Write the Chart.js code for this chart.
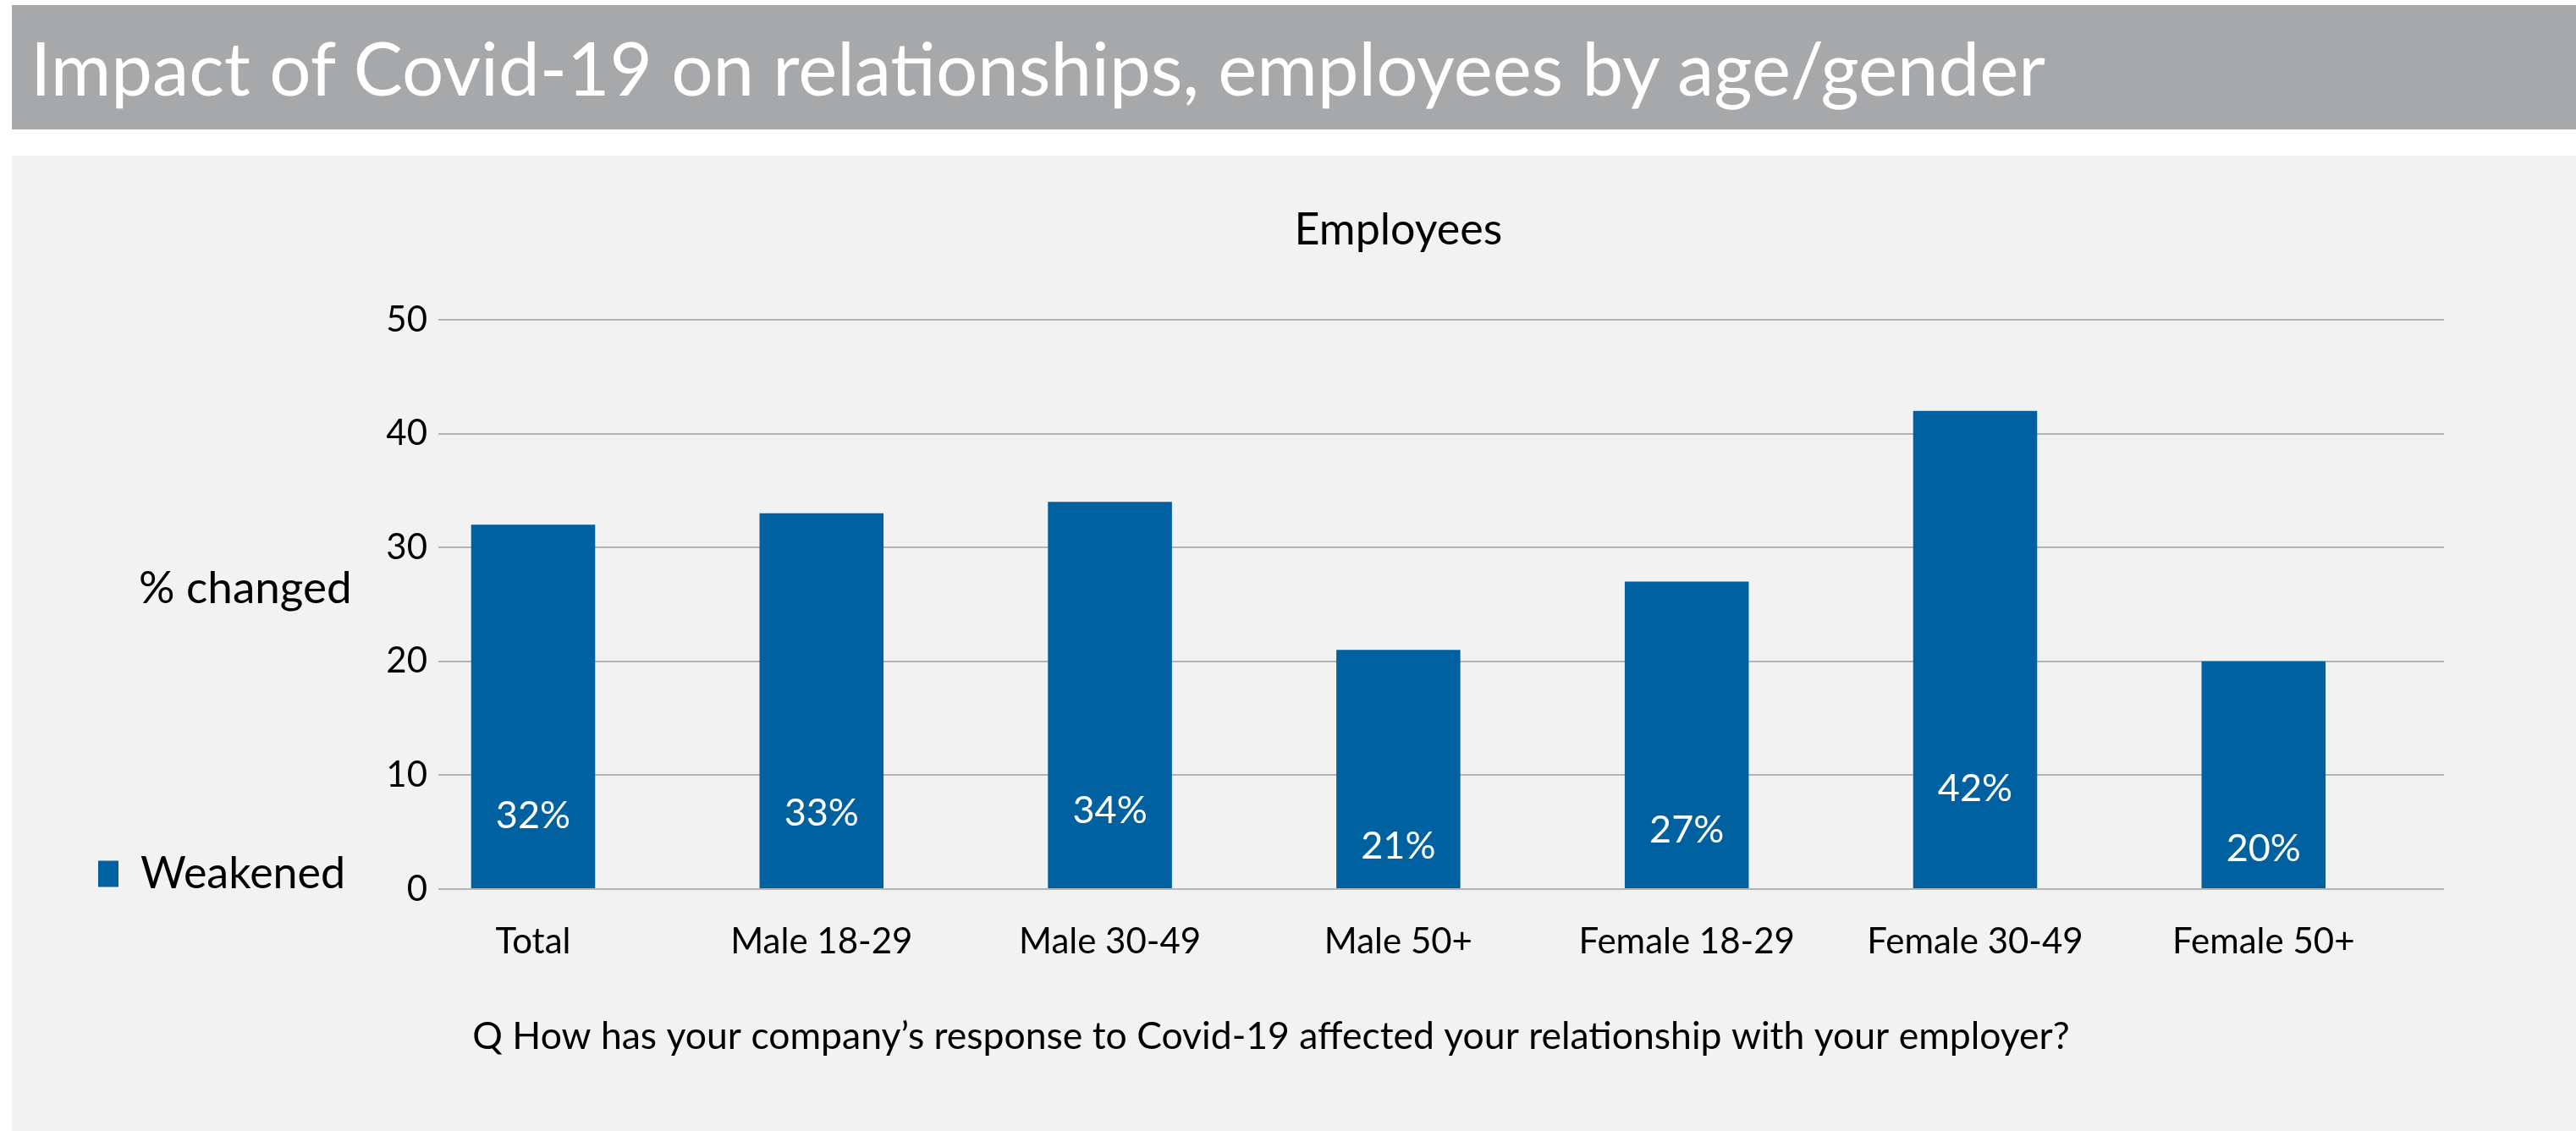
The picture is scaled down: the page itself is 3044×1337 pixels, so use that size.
<!DOCTYPE html>
<html><head><meta charset="utf-8">
<script src="https://cdn.jsdelivr.net/npm/chart.js@4.4.0/dist/chart.umd.min.js"></script>
<style>
html,body{margin:0;padding:0;background:#fff;width:3044px;height:1337px;overflow:hidden;font-family:Lato,sans-serif;}
#bar{position:absolute;left:14px;top:6px;width:3030px;height:147px;background:#a7a8aa;}
#title{position:absolute;left:36px;top:28px;font-size:87px;line-height:1.2;color:#fff;white-space:nowrap;font-family:Lato,sans-serif;}
#panel{position:absolute;left:14px;top:184px;width:3030px;height:1153px;background:#f2f2f2;}
#wrap{position:absolute;left:0;top:0;width:3044px;height:1337px;}
</style></head><body>
<div id="bar"></div>
<div id="title">Impact of Covid-19 on relationships, employees by age/gender</div>
<div id="panel"></div>
<div id="wrap"><canvas id="c"></canvas></div>
<script>
const categories = ['Total', 'Male 18-29', 'Male 30-49', 'Male 50+', 'Female 18-29', 'Female 30-49', 'Female 50+'];
const weakened = [32, 33, 34, 21, 27, 42, 20];
const yTickValues = [0, 10, 20, 30, 40, 50];
const seriesName = 'Weakened';
const chartTitle = 'Employees';
const yAxisLabel = '% changed';
const question = 'Q How has your company\u2019s response to Covid-19 affected your relationship with your employer?';

Chart.defaults.font.family = 'Lato, sans-serif';
Chart.defaults.color = '#000';

let yAxisWidth = 200;

const extras = {
  id: 'extras',
  afterDatasetsDraw(chart) {
    const ctx = chart.ctx;
    const meta = chart.getDatasetMeta(0);
    ctx.save();
    ctx.fillStyle = '#ffffff';
    ctx.font = '45px Lato, sans-serif';
    ctx.textAlign = 'center';
    ctx.textBaseline = 'alphabetic';
    meta.data.forEach((bar, i) => {
      const h = bar.base - bar.y;
      ctx.fillText(weakened[i] + '%', bar.x, bar.base - 0.24 * h + 32.6);
    });
    ctx.restore();
  },
  afterDraw(chart) {
    const ctx = chart.ctx;
    const xs = chart.scales.x;
    ctx.save();
    ctx.fillStyle = '#000';
    ctx.textBaseline = 'alphabetic';
    ctx.font = '52px Lato, sans-serif';
    ctx.textAlign = 'center';
    const cx = (xs.getPixelForValue(-0.5) + xs.getPixelForValue(categories.length - 0.5)) / 2;
    ctx.fillText(chartTitle, cx, 289);
    ctx.font = '53px Lato, sans-serif';
    ctx.textAlign = 'left';
    ctx.fillText(yAxisLabel, 164, 713);
    ctx.restore();
  }
};

const chart = new Chart(document.getElementById('c'), {
  type: 'bar',
  data: {
    datasets: [{
      label: seriesName,
      data: categories.map((c, i) => ({x: i, y: weakened[i]})),
      backgroundColor: '#0061a0',
      borderWidth: 0,
      categoryPercentage: 1,
      barPercentage: 0.43
    }]
  },
  options: {
    responsive: true,
    maintainAspectRatio: false,
    devicePixelRatio: 1,
    animation: false,
    layout: {padding: {left: 116, right: 156, top: 378, bottom: 80}},
    scales: {
      x: {
        type: 'linear',
        offset: false,
        min: -0.3286,
        max: 6.6256,
        grid: {display: false},
        border: {display: false},
        afterBuildTicks: (s) => { s.ticks = categories.map((c, i) => ({value: i})); },
        ticks: {
          autoSkip: false,
          maxRotation: 0,
          padding: 29,
          font: {size: 42},
          color: '#000',
          callback: (v) => categories[v] ?? ''
        }
      },
      y: {
        min: 0,
        max: 50,
        afterBuildTicks: (s) => { s.ticks = yTickValues.map(v => ({value: v})); },
        afterFit: (s) => { s.width = yAxisWidth; },
        grid: {color: '#b4b4b4', lineWidth: 2, drawTicks: false},
        border: {display: false},
        ticks: {padding: 13, font: {size: 42}, color: '#000'}
      }
    },
    plugins: {
      legend: {
        position: 'left',
        align: 'end',
        fullSize: false,
        labels: {boxWidth: 32, boxHeight: 31, padding: -8, font: {size: 52}, color: '#000'}
      },
      title: {display: false},
      subtitle: {
        display: true,
        position: 'bottom',
        text: question,
        color: '#000',
        font: {size: 44.5},
        padding: {top: 32, bottom: 0}
      },
      tooltip: {enabled: false}
    }
  },
  plugins: [extras]
});

yAxisWidth += 518 - chart.chartArea.left;
chart.options.layout.padding.bottom += chart.chartArea.bottom - 1051;
chart.update();
</script>
</body></html>
